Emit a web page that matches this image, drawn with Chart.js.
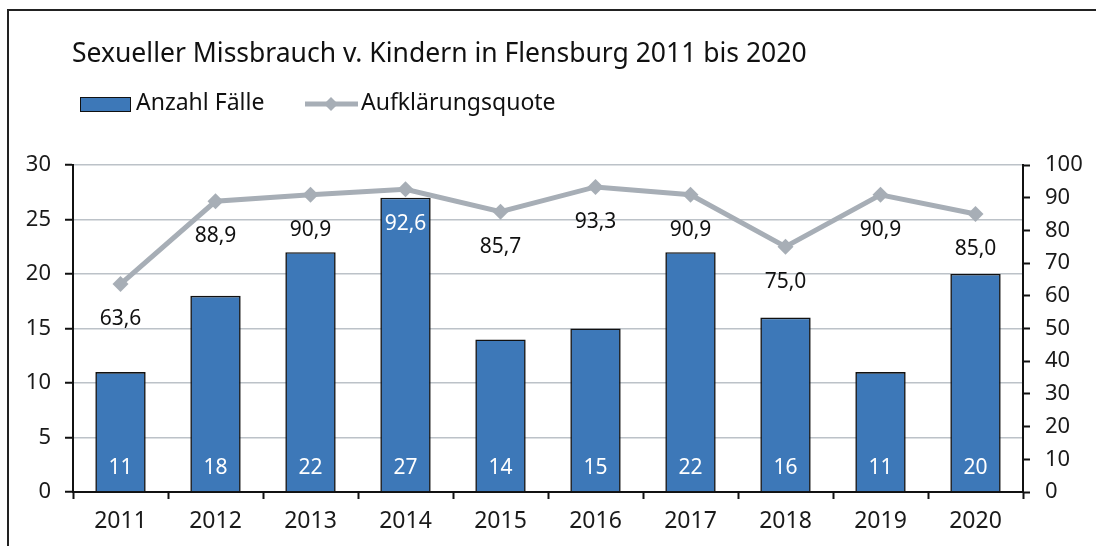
<!DOCTYPE html>
<html>
<head>
<meta charset="utf-8">
<script src="https://cdn.jsdelivr.net/npm/chart.js@4/dist/chart.umd.min.js"></script>
<style>
  html, body { margin: 0; padding: 0; background: #ffffff; }
  #wrap { width: 1096px; height: 546px; position: relative; }
</style>
</head>
<body>
<div id="wrap"><canvas id="c" width="1096" height="546"></canvas></div>
<script>
const titleText = 'Sexueller Missbrauch v. Kindern in Flensburg 2011 bis 2020';
const categories = ['2011','2012','2013','2014','2015','2016','2017','2018','2019','2020'];
const anzahlFaelle = [11, 18, 22, 27, 14, 15, 22, 16, 11, 20];
const aufklaerungsquote = [63.6, 88.9, 90.9, 92.6, 85.7, 93.3, 90.9, 75.0, 90.9, 85.0];
const seriesNames = ['Anzahl Fälle', 'Aufklärungsquote'];

const FONT = '"Noto Sans", "Open Sans", sans-serif';
const BAR_COLOR = '#3d78b8';
const LINE_COLOR = '#a7aeb6';
const GRID_COLOR = '#bcc2c8';
const TEXT_COLOR = '#1a1a1a';

const fmt = v => v.toFixed(1).replace('.', ',');

const decorPlugin = {
  id: 'decor',
  beforeDraw(chart) {
    const ctx = chart.ctx;
    ctx.save();
    ctx.fillStyle = '#ffffff';
    ctx.fillRect(0, 0, chart.width, chart.height);
    // outer frame (top and left edges visible)
    ctx.strokeStyle = '#222222';
    ctx.lineWidth = 2;
    ctx.beginPath();
    ctx.moveTo(8, chart.height + 2);
    ctx.lineTo(8, 10);
    ctx.lineTo(chart.width + 2, 10);
    ctx.stroke();
    // title
    ctx.fillStyle = '#111111';
    ctx.font = '26.5px ' + FONT;
    ctx.textBaseline = 'alphabetic';
    ctx.textAlign = 'left';
    ctx.fillText(titleText, 72, 62);
    // legend
    ctx.font = '23px ' + FONT;
    ctx.fillStyle = BAR_COLOR;
    ctx.fillRect(80, 97, 50, 14);
    ctx.strokeStyle = '#111111';
    ctx.lineWidth = 1;
    ctx.strokeRect(80.5, 97.5, 50, 14);
    ctx.fillStyle = '#111111';
    ctx.textBaseline = 'middle';
    ctx.fillText(seriesNames[0], 136, 103);
    ctx.strokeStyle = LINE_COLOR;
    ctx.lineWidth = 5;
    ctx.beginPath();
    ctx.moveTo(305, 104);
    ctx.lineTo(358, 104);
    ctx.stroke();
    ctx.fillStyle = LINE_COLOR;
    ctx.beginPath();
    ctx.moveTo(331, 97); ctx.lineTo(338, 104); ctx.lineTo(331, 111); ctx.lineTo(324, 104);
    ctx.closePath();
    ctx.fill();
    ctx.fillStyle = '#111111';
    ctx.fillText(seriesNames[1], 361, 103);
    ctx.restore();
  },
  afterDatasetsDraw(chart) {
    const ctx = chart.ctx;
    ctx.save();
    ctx.font = '21px ' + FONT;
    ctx.textAlign = 'center';
    ctx.textBaseline = 'middle';
    const barMeta = chart.getDatasetMeta(1);
    const lineMeta = chart.getDatasetMeta(0);
    const yBase = chart.scales.y.getPixelForValue(0);
    // bar value labels
    barMeta.data.forEach((bar, i) => {
      ctx.fillStyle = '#ffffff';
      ctx.fillText(String(anzahlFaelle[i]), bar.x, yBase - 24);
    });
    // line value labels (below the points)
    lineMeta.data.forEach((pt, i) => {
      const ly = pt.y + 35;
      const bar = barMeta.data[i];
      const half = bar.width / 2;
      const inside = ly - 8 > bar.y && Math.abs(pt.x - bar.x) < half;
      ctx.fillStyle = inside ? '#ffffff' : '#111111';
      ctx.fillText(fmt(aufklaerungsquote[i]), pt.x, ly);
    });
    ctx.restore();
  }
};

new Chart(document.getElementById('c'), {
  data: {
    labels: categories,
    datasets: [
      {
        type: 'line',
        label: seriesNames[1],
        data: aufklaerungsquote,
        yAxisID: 'y1',
        borderColor: LINE_COLOR,
        backgroundColor: LINE_COLOR,
        borderWidth: 5,
        pointStyle: 'rectRot',
        pointRadius: 8,
        pointHoverRadius: 8,
        pointBackgroundColor: LINE_COLOR,
        pointBorderColor: LINE_COLOR,
        pointBorderWidth: 0,
        tension: 0,
        order: 0
      },
      {
        type: 'bar',
        label: seriesNames[0],
        data: anzahlFaelle,
        yAxisID: 'y',
        backgroundColor: BAR_COLOR,
        borderColor: '#111111',
        borderWidth: 1.6,
        categoryPercentage: 1.0,
        barPercentage: 0.53,
        order: 1
      }
    ]
  },
  options: {
    responsive: false,
    animation: false,
    devicePixelRatio: 1,
    layout: { padding: { top: 165, left: 0, right: 0, bottom: 0 } },
    plugins: {
      legend: { display: false },
      title: { display: false },
      tooltip: { enabled: false }
    },
    scales: {
      x: {
        type: 'category',
        offset: true,
        grid: {
          offset: true,
          drawOnChartArea: false,
          drawTicks: true,
          tickLength: 7,
          tickColor: '#111111',
          tickWidth: 2
        },
        border: { display: true, color: '#111111', width: 2 },
        ticks: { color: TEXT_COLOR, font: { family: FONT, size: 23 }, padding: 9 },
        afterFit(scale) { scale.height = 54; }
      },
      y: {
        position: 'left',
        min: 0, max: 30,
        ticks: { stepSize: 5, color: TEXT_COLOR, font: { family: FONT, size: 22 }, padding: 14 },
        grid: {
          color: GRID_COLOR,
          lineWidth: 1.5,
          drawTicks: true,
          tickLength: 8,
          tickColor: '#111111',
          tickWidth: 2
        },
        border: { display: true, color: '#111111', width: 2 },
        afterFit(scale) { scale.width = 73; }
      },
      y1: {
        position: 'right',
        min: 0, max: 100,
        ticks: { stepSize: 10, color: TEXT_COLOR, font: { family: FONT, size: 22 }, padding: 15 },
        grid: {
          drawOnChartArea: false,
          drawTicks: true,
          tickLength: 7,
          tickColor: '#111111',
          tickWidth: 2
        },
        border: { display: true, color: '#111111', width: 2 },
        afterFit(scale) { scale.width = 73; }
      }
    }
  },
  plugins: [decorPlugin]
});
</script>
</body>
</html>
